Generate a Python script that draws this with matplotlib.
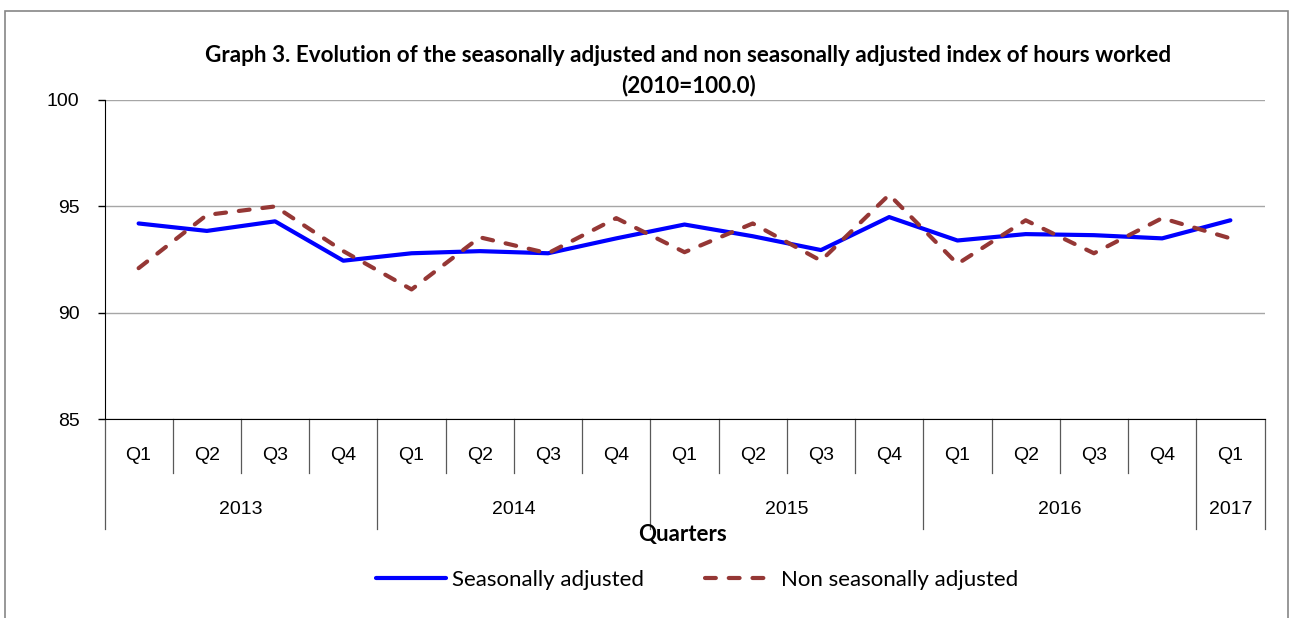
import matplotlib
matplotlib.use("Agg")
import matplotlib.pyplot as plt
import matplotlib.transforms as mtransforms
from matplotlib.patches import Rectangle
import numpy as np

# data
quarters = ["Q1", "Q2", "Q3", "Q4", "Q1", "Q2", "Q3", "Q4", "Q1",
            "Q2", "Q3", "Q4", "Q1", "Q2", "Q3", "Q4", "Q1"]
years = ["2013", "2014", "2015", "2016", "2017"]
year_quarters = [4, 4, 4, 4, 1]
seasonally_adjusted = [94.2, 93.85, 94.3, 92.45, 92.8, 92.9, 92.8, 93.5, 94.15,
                       93.6, 92.95, 94.5, 93.4, 93.7, 93.65, 93.5, 94.35]
non_seasonally_adjusted = [92.1, 94.6, 95.0, 92.9, 91.1, 93.55, 92.8, 94.45, 92.85,
                           94.2, 92.45, 95.55, 92.3, 94.35, 92.8, 94.45, 93.5]

W, H = 1296, 618
arial = "Liberation Sans"
calibri = "Lato"

fig = plt.figure(figsize=(W / 100, H / 100), dpi=100)
ax = fig.add_axes([104.5 / W, 1 - 419.3 / H, 1160 / W, 319.3 / H])

# outer chart frame
fig.patches.append(Rectangle((5 / W, -0.1), 1283 / W, 1.1 - 11 / H,
                             transform=fig.transFigure, fill=False,
                             edgecolor="#868686", linewidth=1.2))

x = np.arange(len(quarters))
ax.plot(x, seasonally_adjusted, color="#0000ff", linewidth=3.0,
        solid_capstyle="round", label="Seasonally adjusted", zorder=3)
ax.plot(x, non_seasonally_adjusted, color="#953735", linewidth=3.0,
        linestyle=(0, (2.6, 3.1)), dash_capstyle="round",
        label="Non seasonally adjusted", zorder=4)

ax.set_xlim(-0.5, len(quarters) - 0.5)
ax.set_ylim(85, 100)
ax.set_yticks([85, 90, 95, 100])
ax.grid(axis="y", color="#a6a6a6", linewidth=1.0)
ax.set_axisbelow(True)
for s in ["top", "right"]:
    ax.spines[s].set_visible(False)
ax.tick_params(axis="y", length=5, width=1, pad=13, labelsize=14)
ax.set_xticks([])
for lbl in ax.get_yticklabels():
    lbl.set_family(arial)

# multi-level category axis
trans = mtransforms.blended_transform_factory(ax.transData, ax.transAxes)
for i, q in enumerate(quarters):
    ax.text(i, -0.112, q, transform=trans, ha="center", va="center",
            fontsize=14, family=arial)
year_edges = np.cumsum([0] + year_quarters) - 0.5
for i in range(len(quarters) + 1):
    xb = i - 0.5
    low = -0.3436 if xb in year_edges else -0.168
    ax.plot([xb, xb], [0, low], transform=trans, color="#595959",
            linewidth=0.9, clip_on=False)
for yr, a, b in zip(years, year_edges[:-1], year_edges[1:]):
    ax.text((a + b) / 2, -0.284, yr, transform=trans, ha="center",
            va="center", fontsize=14, family=arial)

ax.text(683 / W, 1 - 534 / H, "Quarters", transform=fig.transFigure,
        ha="center", va="center", fontsize=16, fontweight="bold",
        family=calibri)

fig.text(688 / W, 1 - 55 / H,
         "Graph 3. Evolution of the seasonally adjusted and non seasonally adjusted index of hours worked",
         ha="center", va="center", fontsize=16.2, fontweight="bold", family=calibri)
fig.text(688 / W, 1 - 86 / H, "(2010=100.0)", ha="center", va="center",
         fontsize=16.2, fontweight="bold", family=calibri)

fig.legend(loc="center", bbox_to_anchor=(697 / W, 1 - 580 / H), ncol=2,
           frameon=False, prop={"family": calibri, "size": 16},
           handlelength=3.15, handletextpad=0.27, columnspacing=2.75)

fig.savefig("out.png", dpi=100)
